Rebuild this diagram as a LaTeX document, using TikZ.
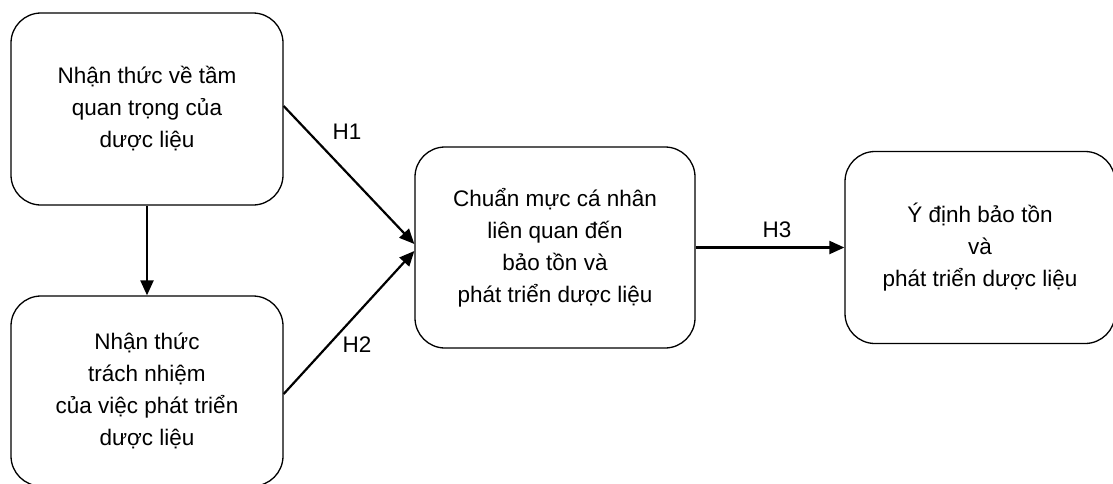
\documentclass[tikz,border=0pt]{standalone}
\usepackage{fontspec}
\setmainfont{Liberation Sans}
\usetikzlibrary{arrows.meta}
\begin{document}
\begin{tikzpicture}[x=1pt,y=-1pt,
  box/.style={draw=black, line width=1.3pt, rounded corners=30pt, fill=white,
    align=center, inner sep=0pt, font=\fontsize{22.5}{32}\selectfont},
  link/.style={line width=2.2pt, -{Triangle[length=15pt,width=13pt]}},
  tag/.style={font=\fontsize{22.5}{26}\selectfont, inner sep=0pt}]
  \useasboundingbox (0,0) rectangle (1113,483);
  % the four concept boxes
  \node[box, minimum width=272pt, minimum height=192pt] (b1) at (147,109)
    {Nhận thức về tầm\\quan trọng của\\dược liệu};
  \node[box, minimum width=272pt, minimum height=190pt] (b2) at (147,391)
    {Nhận thức\\trách nhiệm\\của việc phát triển\\dược liệu};
  \node[box, minimum width=280pt, minimum height=201pt] (b3) at (555,247.5)
    {Chuẩn mực cá nhân\\liên quan đến\\bảo tồn và\\phát triển dược liệu};
  \node[box, minimum width=270pt, minimum height=192pt] (b4) at (980,247.5)
    {Ý định bảo tồn\\và\\phát triển dược liệu};
  % hypothesised paths
  \draw[link] (b1.south) -- (b2.north);
  \draw[link] ([yshift=3pt]b1.east) -- ([yshift=3.5pt]b3.west);
  \draw[link] ([yshift=-3pt]b2.east) -- ([yshift=-3.5pt]b3.west);
  \draw[link] (b3.east) -- (b4.west);
  % path labels
  \node[tag] (h1) at (347,132) {H1};
  \node[tag] (h2) at (357,345) {H2};
  \node[tag] (h3) at (777,230) {H3};
\end{tikzpicture}
\end{document}
